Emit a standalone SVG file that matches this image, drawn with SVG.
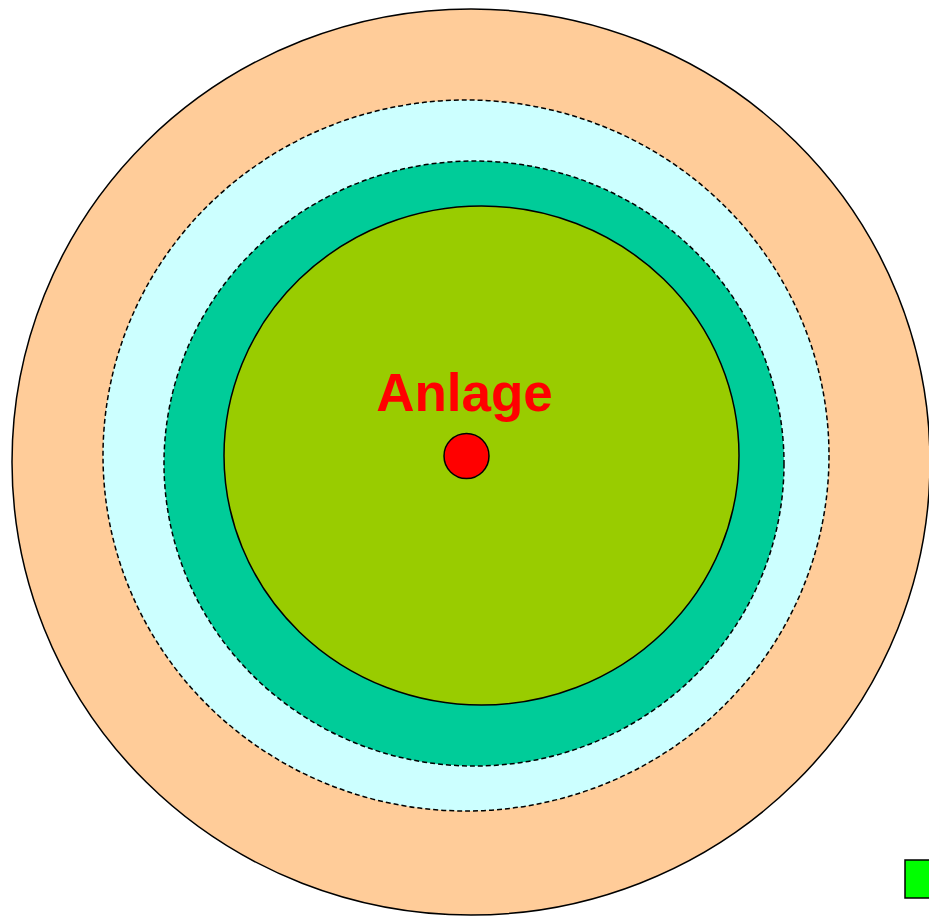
<svg xmlns="http://www.w3.org/2000/svg" width="929" height="916" viewBox="0 0 929 916">
<style>
.ring{stroke:#000;stroke-width:1.5}
.dash{stroke-dasharray:5,3}
.lbl{font-family:"Liberation Sans",Arial,sans-serif;font-weight:bold;font-size:53px;fill:#FF0000}
</style>
<rect width="929" height="916" fill="#fff"/>
<g id="outer"><ellipse class="ring" cx="471" cy="462" rx="459" ry="453" fill="#FFCC99"/></g>
<g id="cyan"><ellipse class="ring dash" cx="466" cy="455.5" rx="363" ry="355.5" fill="#CCFFFF"/></g>
<g id="teal"><ellipse class="ring dash" cx="474" cy="463.5" rx="310" ry="302.5" fill="#00CC99"/></g>
<g id="inner"><ellipse class="ring" cx="481.5" cy="455.5" rx="257.5" ry="249.5" fill="#99CC00"/></g>
<g id="anlage">
<text class="lbl" x="464.5" y="411" text-anchor="middle">Anlage</text>
<circle class="ring" cx="466.5" cy="456" r="22.5" fill="#FF0000"/>
</g>
<g id="legend"><rect class="ring" x="905" y="860" width="40" height="38" fill="#00FF00"/></g>
<g id="connectors"/>
</svg>
